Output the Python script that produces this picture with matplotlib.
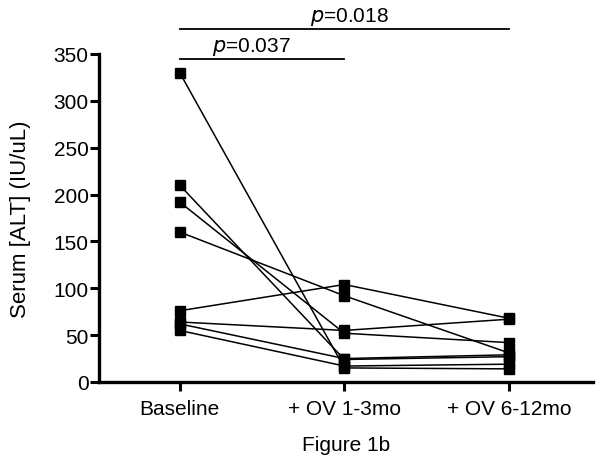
import matplotlib
matplotlib.use("Agg")
import matplotlib.pyplot as plt

plt.rcParams['font.family'] = ['Liberation Sans', 'DejaVu Sans']

# Data (serum ALT per subject)
groups = ['Baseline', '+ OV 1-3mo', '+ OV 6-12mo']
baseline = [330, 210, 192, 160, 76, 64, 62, 55]
ov_1_3 = [15, 24, 52, 92, 104, 55, 25, 17]
ov_6_12 = [14, 27, 42, 31, 68, 67, 29, 19]
yticks = [0, 50, 100, 150, 200, 250, 300, 350]

# significance bars: (start group, end group, label, text offset)
sig_bars = [(0, 1, '0.037', -0.065), (0, 2, '0.018', 0.03)]
sig_heights = [345, 377]

fig = plt.figure(figsize=(6.02, 4.64), dpi=100)
ax = fig.add_axes([0.1645, 0.1746, 0.8205, 0.707])

xs = range(len(groups))
for vals in zip(baseline, ov_1_3, ov_6_12):
    ax.plot(xs, vals, color='black', lw=1.1, marker='s', ms=7.5,
            mfc='black', mec='black', clip_on=False, zorder=3)

ax.set_xlim(-0.49, 2.51)
ax.set_ylim(0, 350)
ax.set_yticks(yticks)
ax.set_xticks(list(xs))
ax.set_xticklabels(groups, fontsize=15)
ax.tick_params(axis='y', labelsize=15, width=2.2, length=6.5, pad=1)
ax.tick_params(axis='x', width=2.2, length=6.5, pad=6)
for side in ['top', 'right']:
    ax.spines[side].set_visible(False)
for side in ['left', 'bottom']:
    ax.spines[side].set_linewidth(2.4)

ax.set_ylabel('Serum [ALT] (IU/uL)', fontsize=16, labelpad=16)
ax.set_xlabel('Figure 1b', fontsize=15, labelpad=12)

for (a, b, label, off), h in zip(sig_bars, sig_heights):
    ax.plot([a, b], [h, h], color='black', lw=1.3, clip_on=False)
    ax.text((a + b) / 2 + off, h + 1.5, r'$\it{p}$=' + label, ha='center',
            va='bottom', fontsize=15)

fig.savefig('out.png', dpi=100)
